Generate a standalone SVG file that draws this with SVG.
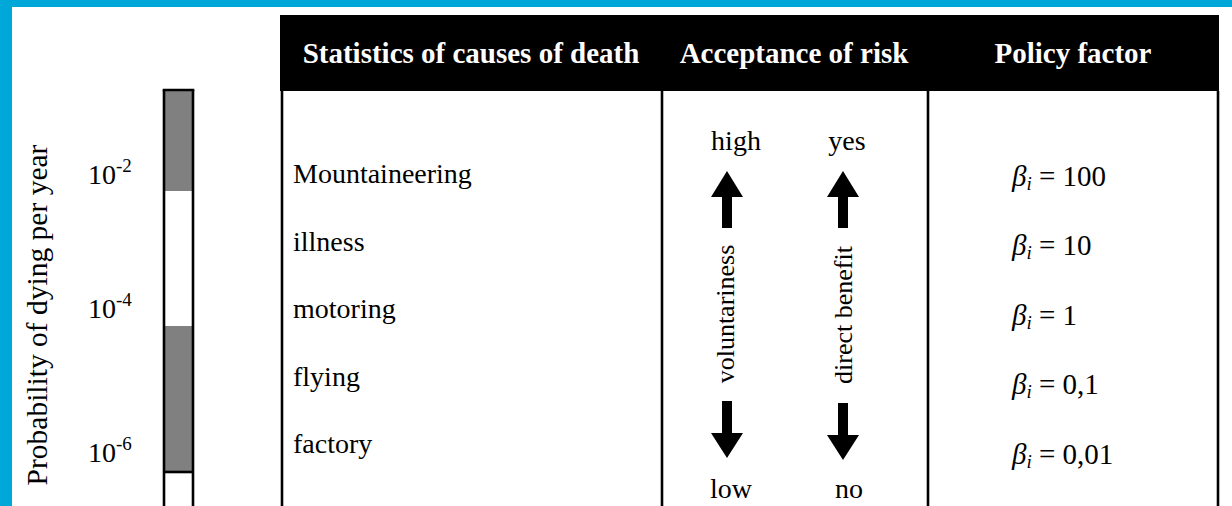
<svg xmlns="http://www.w3.org/2000/svg" width="1232" height="506" viewBox="0 0 1232 506">
  <style>
    .t { font-family: "Liberation Serif", "Times New Roman", serif; fill: #000; }
    .h { font-family: "Liberation Serif", "Times New Roman", serif; font-weight: bold; font-size: 29px; fill: #fff; text-anchor: middle; }
    .body { font-size: 28px; }
    .ax { font-size: 26px; }
    .end { font-size: 28px; }
    .lab { font-size: 28px; }
    .sup { font-size: 19px; }
    .beta { font-size: 29px; }
    .line { stroke: #000; stroke-width: 2.6; fill: none; }
    .arrow { fill: #000; }
  </style>
  <rect x="0" y="0" width="1232" height="506" fill="#fff"/>
  <g id="frame">
    <rect x="0" y="0" width="1232" height="7" fill="#00a7d9"/>
    <rect x="0" y="0" width="12" height="506" fill="#00a7d9"/>
  </g>
  <g id="axis-label">
    <text class="t" font-size="29.5" transform="translate(47 315) rotate(-90)" text-anchor="middle">Probability of dying per year</text>
  </g>
  <g id="scale-labels">
    <text class="t lab" x="88" y="184">10<tspan class="sup" dy="-12">-2</tspan></text>
    <text class="t lab" x="88" y="318">10<tspan class="sup" dy="-12">-4</tspan></text>
    <text class="t lab" x="88" y="462">10<tspan class="sup" dy="-12">-6</tspan></text>
  </g>
  <g id="scale-bar">
    <rect x="165" y="91" width="27" height="100" fill="#808080"/>
    <rect x="165" y="326" width="27" height="145" fill="#808080"/>
    <line class="line" x1="164" y1="90" x2="164" y2="506"/>
    <line class="line" x1="193" y1="90" x2="193" y2="506"/>
    <line class="line" x1="162.7" y1="90" x2="194.3" y2="90"/>
    <line class="line" x1="164" y1="472" x2="193" y2="472"/>
  </g>
  <g id="header">
    <rect x="280" y="15" width="939" height="76" fill="#000"/>
    <text class="h" x="471" y="63">Statistics of causes of death</text>
    <text class="h" x="794" y="63">Acceptance of risk</text>
    <text class="h" x="1073" y="63">Policy factor</text>
  </g>
  <g id="table-lines">
    <line class="line" x1="282" y1="91" x2="282" y2="506"/>
    <line class="line" x1="662" y1="91" x2="662" y2="506"/>
    <line class="line" x1="928" y1="91" x2="928" y2="506"/>
    <line class="line" x1="1218" y1="91" x2="1218" y2="506"/>
  </g>
  <g id="causes">
    <text class="t body" x="293" y="183">Mountaineering</text>
    <text class="t body" x="293" y="251">illness</text>
    <text class="t body" x="293" y="318">motoring</text>
    <text class="t body" x="293" y="386">flying</text>
    <text class="t body" x="293" y="453">factory</text>
  </g>
  <g id="acceptance">
    <text class="t end" x="736" y="150" text-anchor="middle">high</text>
    <text class="t end" x="847" y="150" text-anchor="middle">yes</text>
    <text class="t end" x="731" y="498" text-anchor="middle">low</text>
    <text class="t end" x="849" y="498" text-anchor="middle">no</text>
    <text class="t ax" transform="translate(734 314) rotate(-90)" text-anchor="middle">voluntariness</text>
    <text class="t ax" transform="translate(852 315) rotate(-90)" text-anchor="middle">direct benefit</text>
  </g>
  <g id="connectors">
    <polygon class="arrow" points="727,171 743,197 732,197 732,228 722,228 722,197 711,197"/>
    <polygon class="arrow" points="843,171 859,197 848,197 848,228 838,228 838,197 827,197"/>
    <polygon class="arrow" points="727,458 743,433 732,433 732,401 722,401 722,433 711,433"/>
    <polygon class="arrow" points="843,460 859,435 848,435 848,403 838,403 838,435 827,435"/>
  </g>
  <g id="policy">
    <text class="t beta" x="1012" y="186"><tspan font-style="italic">β</tspan><tspan font-style="italic" font-size="19" dy="4">i</tspan><tspan dy="-4"> = 100</tspan></text>
    <text class="t beta" x="1012" y="255"><tspan font-style="italic">β</tspan><tspan font-style="italic" font-size="19" dy="4">i</tspan><tspan dy="-4"> = 10</tspan></text>
    <text class="t beta" x="1012" y="325"><tspan font-style="italic">β</tspan><tspan font-style="italic" font-size="19" dy="4">i</tspan><tspan dy="-4"> = 1</tspan></text>
    <text class="t beta" x="1012" y="394"><tspan font-style="italic">β</tspan><tspan font-style="italic" font-size="19" dy="4">i</tspan><tspan dy="-4"> = 0,1</tspan></text>
    <text class="t beta" x="1012" y="464"><tspan font-style="italic">β</tspan><tspan font-style="italic" font-size="19" dy="4">i</tspan><tspan dy="-4"> = 0,01</tspan></text>
  </g>
</svg>
